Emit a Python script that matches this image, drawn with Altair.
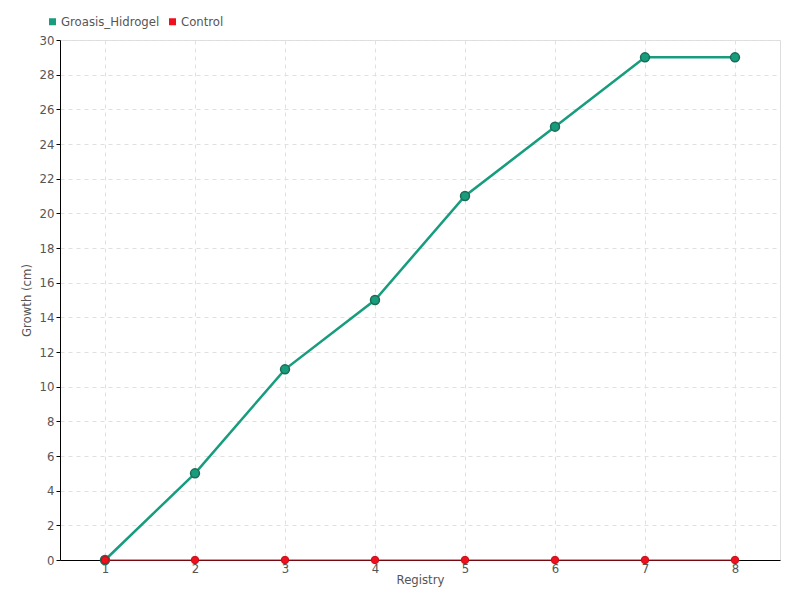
import altair as alt
import pandas as pd

registry = [1, 2, 3, 4, 5, 6, 7, 8]
groasis = [0, 5, 11, 15, 21, 25, 29, 29]
control = [0, 0, 0, 0, 0, 0, 0, 0]
series_names = ["Groasis_Hidrogel", "Control"]
colors = ["#189c7e", "#f0101e"]

df = pd.concat([
    pd.DataFrame({"Registry": registry, "Growth": groasis, "Series": series_names[0]}),
    pd.DataFrame({"Registry": registry, "Growth": control, "Series": series_names[1]}),
])

FONT = "DejaVu Sans Condensed, Roboto, sans-serif"

color = alt.Color("Series:N", scale=alt.Scale(domain=series_names, range=colors),
                  sort=series_names,
                  legend=alt.Legend(title=None, orient="none", legendX=-14, legendY=-25,
                                    direction="horizontal", symbolType="square", symbolSize=30,
                                    labelFont=FONT, labelFontSize=13, labelColor="#555",
                                    columnPadding=6, symbolOffset=0, labelOffset=2))

x = alt.X("Registry:Q", scale=alt.Scale(domain=[0.5, 8.5], nice=False, zero=False),
          axis=alt.Axis(values=registry, title="Registry", titleFont=FONT, titleFontSize=13,
                        titleFontWeight="normal", titleColor="#555", titlePadding=-2,
                        labelFont=FONT, labelFontSize=13, labelColor="#555", tickSize=0,
                        labelPadding=2, gridDash=[4, 4], gridColor="#e0e0e0",
                        domainColor="#000", format="d"))
y = alt.Y("Growth:Q", scale=alt.Scale(domain=[0, 30], nice=False),
          axis=alt.Axis(values=list(range(0, 31, 2)), title="Growth (cm)", titleFont=FONT,
                        titleFontSize=13, titleFontWeight="normal", titleColor="#555",
                        labelFont=FONT, labelFontSize=13, labelColor="#555", tickSize=4,
                        tickColor="#000", labelPadding=2, titlePadding=6,
                        gridDash=[4, 4], gridColor="#e0e0e0", domainColor="#000"))

base = alt.Chart(df)

g_line = base.transform_filter("datum.Series == 'Groasis_Hidrogel'").mark_line(strokeWidth=2.5).encode(
    x=x, y=y, color=color)
pts_g = base.transform_filter("datum.Series == 'Groasis_Hidrogel'").mark_circle(
    size=80, opacity=1, stroke="#1d6b55", strokeWidth=1.5).encode(x=x, y=y, color=color)
line_c = base.transform_filter("datum.Series == 'Control'").mark_line(strokeWidth=1.2).encode(
    x=x, y=y, color=color)
pts_c = base.transform_filter("datum.Series == 'Control'").mark_circle(
    size=55, opacity=1, stroke="#c0101a", strokeWidth=1).encode(x=x, y=y, color=color)

chart = alt.layer(g_line, pts_g, line_c, pts_c).properties(
    width=720, height=520, autosize=alt.AutoSizeParams(type="none"),
    padding={"left": 52, "top": 32, "right": 12, "bottom": 32}
).configure_view(stroke=None).configure(background="white")

chart.save("out.html", embed_options={"renderer": "svg", "actions": False})
